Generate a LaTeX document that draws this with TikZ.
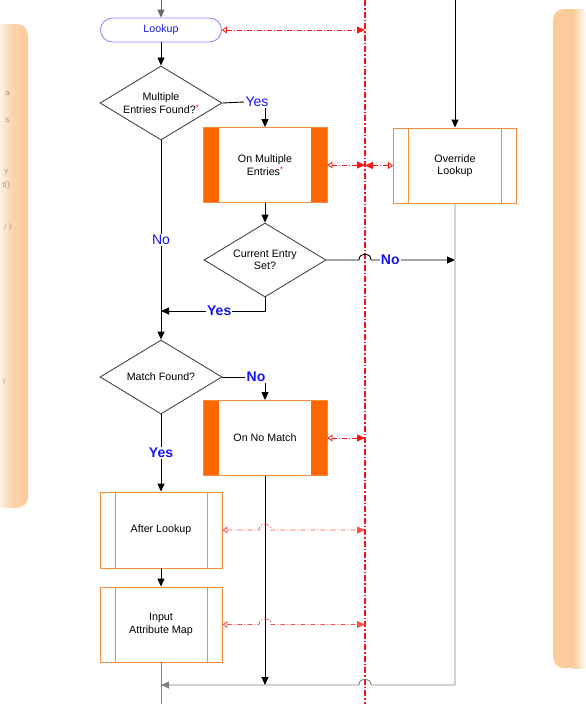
\documentclass[tikz,border=0pt]{standalone}
\usepackage{fontspec}
\setmainfont{Liberation Sans}
\usetikzlibrary{shapes.geometric,arrows.meta,calc}

\definecolor{boxorange}{RGB}{247,140,60}
\definecolor{barorange}{RGB}{255,102,0}
\definecolor{panelor}{RGB}{252,203,154}
\definecolor{lookblue}{RGB}{140,140,250}
\definecolor{lookbluetext}{RGB}{30,30,220}
\definecolor{lblblue}{RGB}{20,20,240}
\definecolor{diagrey}{RGB}{70,70,70}
\definecolor{retgrey}{RGB}{130,130,130}
\definecolor{lanered}{RGB}{250,20,20}

\tikzset{
	>={Triangle[length=8pt,width=7pt]},
	every node/.style={font=\fontsize{10.7}{12.5}\selectfont},
	term/.style={draw=lookblue, rectangle, rounded corners=12pt, minimum width=121pt, minimum height=24pt, text=lookbluetext},
	decision/.style={draw=diagrey, diamond, aspect=1.65, inner sep=0pt, minimum width=122pt, minimum height=74pt, align=center},
	subfill/.style={draw=boxorange, rectangle, minimum width=124pt, minimum height=75pt, align=center,
		path picture={
			\fill[barorange] (path picture bounding box.north west) rectangle ([xshift=16pt]path picture bounding box.south west);
			\fill[barorange] (path picture bounding box.north east) rectangle ([xshift=-16pt]path picture bounding box.south east);}},
	subline/.style={draw=boxorange, rectangle, minimum width=122pt, minimum height=75pt, align=center,
		path picture={
			\draw[boxorange] ([xshift=15pt]path picture bounding box.north west) -- ([xshift=15pt]path picture bounding box.south west);
			\draw[boxorange] ([xshift=-15pt]path picture bounding box.north east) -- ([xshift=-15pt]path picture bounding box.south east);}},
	lbl/.style={text=lblblue, font=\fontsize{14}{16}\selectfont, inner sep=1pt},
	lblbold/.style={lbl, font=\fontsize{14}{16}\selectfont\bfseries},
	sig/.style={draw=lanered, line width=0.8pt, dash pattern=on 5pt off 2pt on 1pt off 2pt,
		{Triangle[open,length=5pt,width=7pt]}-{Triangle[length=8pt,width=7pt]}},
	lane/.style={lanered, line width=1.1pt, dash pattern=on 6pt off 2pt on 1.5pt off 2pt},
	ghost/.style={text=black!40, font=\fontsize{8}{9}\selectfont, inner sep=0pt, anchor=west}
}

\begin{document}
\begin{tikzpicture}[x=1pt,y=-1pt,line width=0.9pt]
	\useasboundingbox (0,0) rectangle (586,704);

	% side panels
	\shade[left color=white, right color=panelor, middle color=panelor!80, rounded corners=11pt] (-6,24) rectangle (28,508);
	\fill[panelor, rounded corners=11pt] (553,9) rectangle (600,668);
	\shade[left color=panelor, right color=white] (573,9) rectangle (587,668);
	\node [ghost] (gh1) at (5,93) {a};
	\node [ghost] (gh2) at (5,120) {s};
	\node [ghost] (gh3) at (4,172) {y};
	\node [ghost] (gh4) at (2,185) {t()};
	\node [ghost] (gh5) at (4,227) {/ )};
	\node [ghost] (gh6) at (3,382) {l};

	% swimlane divider
	\coordinate (laneT) at (365,0);
	\coordinate (laneB) at (365,704);
	\draw [lane] (laneT) -- (laneB);

	% steps
	\node [term] (lookup) at (161,30) {Lookup};
	\node [decision] (dmult) at (161,103) {Multiple\\Entries Found?\textcolor{red}{\raisebox{0.5ex}{\footnotesize*}}};
	\node [subfill] (onmult) at (265,165) {On Multiple\\Entries\textcolor{red}{\raisebox{0.5ex}{\footnotesize*}}};
	\node [subline, minimum width=123pt] (override) at (455,165.5) {Override\\Lookup};
	\node [decision] (dcur) at (265,260) {Current Entry\\Set?};
	\node [decision] (dmatch) at (161,377) {Match Found?};
	\node [subfill] (onnomatch) at (265,438) {On No Match};
	\node [subline, minimum height=76pt] (after) at (161,530) {After Lookup};
	\node [subline] (inmap) at (161,624.5) {Input\\Attribute Map};

	\coordinate (top1) at (161,0);
	\coordinate (top2) at (455,0);
	\coordinate (bend) at (455,685);
	\coordinate (retjoin) at (161,685);
	\coordinate (yesjoin) at (161,311);
	\coordinate (exit) at (161,704);

	% flow
	\draw [->, black!60] (top1) -- (lookup);
	\draw [->] (lookup) -- (dmult);
	\node [lbl] (yes1) at (257,102) {Yes};
	\draw (dmult.east) -- (yes1.west);
	\draw [->] (yes1.south -| onmult.north) -- (onmult.north);
	\draw [->] (dmult.south) -- node [lbl, fill=white] {No} (dmatch.north);
	\draw [->] (onmult.south) -- (dcur.north);
	\draw [->] (dcur.south) |- node [lblbold, fill=white, pos=0.72] {Yes} (yesjoin);
	\draw [->] (dcur.east) -- (359,260) .. controls (359,252) and (371,252) .. (371,260)
		-- node [lblbold, fill=white, pos=0.23] {No} (override.south |- dcur.east);
	\draw [->] (top2) -- (override.north);
	\draw [->, retgrey] (override.south) -- (bend) -- (371,685) .. controls (371,677) and (359,677) .. (359,685) -- (retjoin);
	\node [lblbold] (no3) at (256,377) {No};
	\draw (dmatch.east) -- (no3.west);
	\draw [->] (no3.south -| onnomatch.north) -- (onnomatch.north);
	\draw [->] (onnomatch.south) -- (onnomatch.south |- retjoin);
	\draw [->] (dmatch.south) -- node [lblbold, fill=white] {Yes} (after.north);
	\draw [->] (after) -- (inmap);
	\draw [retgrey] (inmap.south) -- (exit);

	% events
	\draw [sig] (lookup.east) -- (lookup.east -| laneT);
	\draw [sig] (onmult.east) -- (onmult.east -| laneT);
	\draw [sig] (override.west) -- (override.west -| laneT);
	\draw [sig] (onnomatch.east) -- (onnomatch.east -| laneT);
	\draw [sig, draw=lanered!75] (after.east) -- (259,530) .. controls (259,522) and (271,522) .. (271,530) -- (after.east -| laneT);
	\draw [sig, draw=lanered!75] (inmap.east) -- (259,624.5) .. controls (259,616.5) and (271,616.5) .. (271,624.5) -- (inmap.east -| laneT);
\end{tikzpicture}
\end{document}
